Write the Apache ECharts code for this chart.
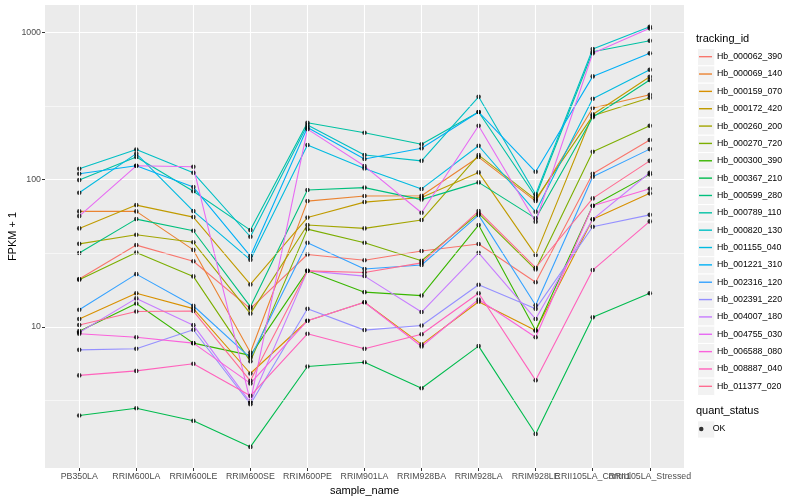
<!DOCTYPE html>
<html>
<head>
<meta charset="utf-8">
<script src="https://cdn.jsdelivr.net/npm/echarts@6.0.0/dist/echarts.min.js"></script>
<style>
html,body{margin:0;padding:0;background:#fff;}
#chart{width:800px;height:500px;}
</style>
</head>
<body>
<div id="chart"></div>
<script>
const categories = ['PB350LA','RRIM600LA','RRIM600LE','RRIM600SE','RRIM600PE','RRIM901LA','RRIM928BA','RRIM928LA','RRIM928LE','RRII105LA_Control','RRII105LA_Stressed'];

const trackingIds = ['Hb_000062_390','Hb_000069_140','Hb_000159_070','Hb_000172_420','Hb_000260_200','Hb_000270_720','Hb_000300_390','Hb_000367_210','Hb_000599_280','Hb_000789_110','Hb_000820_130','Hb_001155_040','Hb_001221_310','Hb_002316_120','Hb_002391_220','Hb_004007_180','Hb_004755_030','Hb_006588_080','Hb_008887_040','Hb_011377_020'];

const trackingColors = ['#F8766D','#EA8331','#D89000','#C09B00','#A3A500','#7CAE00','#39B600','#00BB4E','#00BF7D','#00C1A3','#00BFC4','#00BAE0','#00B0F6','#35A2FF','#9590FF','#C77CFF','#E76BF3','#FA62DB','#FF62BC','#FF6C91'];

const hb_000062_390 = [21.1, 35.9, 27.9, 13.3, 31.0, 28.3, 32.7, 36.5, 20.1, 109.5, 185.5];
const hb_000069_140 = [60.8, 60.8, 33.3, 6.7, 71.4, 77.3, 77.6, 142.2, 71.4, 306, 377];
const hb_000159_070 = [11.3, 16.9, 13.3, 4.82, 11.0, 14.7, 7.6, 14.8, 9.45, 53.7, 80.6];
const hb_000172_420 = [46.6, 67.1, 55.6, 19.4, 55.2, 70.3, 75.5, 111.9, 30.8, 277, 499];
const hb_000260_200 = [36.6, 42.2, 37.5, 12.3, 49.1, 46.6, 53.1, 146.7, 73.4, 271, 359];
const hb_000270_720 = [20.9, 32.0, 22.0, 5.83, 46.1, 37.2, 28.1, 58.9, 24.5, 154.5, 232];
const hb_000300_390 = [9.35, 14.4, 7.75, 6.4, 24.0, 17.2, 16.3, 49.1, 9.45, 66.4, 108.5];
const hb_000367_210 = [2.50, 2.80, 2.30, 1.53, 5.38, 5.75, 3.83, 7.40, 1.87, 11.6, 16.9];
const hb_000599_280 = [31.7, 53.9, 44.9, 13.7, 84.9, 88.2, 73.1, 95.7, 54.5, 265, 474];
const hb_000789_110 = [99.2, 142.2, 83.3, 45.4, 243, 208, 173.7, 287.5, 76.4, 738, 877];
const hb_000820_130 = [118.4, 160, 111.2, 40.9, 234.5, 146.7, 134, 365, 79.4, 770, 1092];
const hb_001155_040 = [81.3, 150, 61.1, 28.5, 171.6, 119.1, 86.4, 169.7, 60.4, 354, 557];
const hb_001221_310 = [109.5, 124, 88.9, 30.2, 226, 137.8, 163, 287.5, 113, 502, 720];
const hb_002316_120 = [13.05, 22.8, 13.9, 6.16, 37.2, 24.7, 26.3, 57.4, 14.0, 104.5, 161];
const hb_002391_220 = [6.98, 7.1, 9.55, 2.98, 13.25, 9.5, 10.2, 19.3, 13.25, 47.8, 57.6];
const hb_004007_180 = [9.16, 15.6, 10.27, 3.06, 24.0, 22.1, 12.6, 31.8, 11.3, 53.7, 111.2];
const hb_004755_030 = [56.5, 124, 122.2, 3.11, 220, 123.5, 59.5, 232, 51.7, 720, 1064];
const hb_006588_080 = [8.97, 8.5, 7.75, 4.13, 11.0, 14.7, 7.35, 15.35, 8.5, 66.4, 86.6];
const hb_008887_040 = [4.68, 5.02, 5.61, 3.40, 8.97, 7.09, 8.9, 16.9, 4.33, 24.3, 52];
const hb_011377_020 = [10.3, 12.7, 12.8, 4.30, 24.0, 23.4, 27.2, 61.1, 25.2, 74.5, 134];

const seriesValues = [hb_000062_390, hb_000069_140, hb_000159_070, hb_000172_420, hb_000260_200, hb_000270_720, hb_000300_390, hb_000367_210, hb_000599_280, hb_000789_110, hb_000820_130, hb_001155_040, hb_001221_310, hb_002316_120, hb_002391_220, hb_004007_180, hb_004755_030, hb_006588_080, hb_008887_040, hb_011377_020];

const yMinorBreaks = [Math.pow(10, 0.5), Math.pow(10, 1.5), Math.pow(10, 2.5)];
const quantStatus = ['OK'];

const FONT = "'Liberation Sans', Arial, Helvetica, sans-serif";
const catIdx = categories.map((c, i) => i);
const evenIdx = catIdx.filter(i => i % 2 === 0);
const oddIdx = catIdx.filter(i => i % 2 === 1);

const chart = echarts.init(document.getElementById('chart'), null, {renderer: 'canvas'});

const lineSeries = trackingIds.map((id, k) => ({
  name: id,
  type: 'line',
  xAxisIndex: 0,
  data: seriesValues[k].map((v, i) => [i, v]),
  symbol: 'none',
  lineStyle: {color: trackingColors[k], width: 1.1},
  itemStyle: {color: trackingColors[k]},
  z: 2,
  silent: true,
  animation: false
}));

const pointData = [];
seriesValues.forEach(arr => arr.forEach((v, i) => pointData.push([i, v])));

const gridSeries = {
  type: 'line',
  xAxisIndex: 0,
  data: [],
  z: 1,
  silent: true,
  animation: false,
  markLine: {
    symbol: 'none',
    silent: true,
    animation: false,
    label: {show: false},
    data: yMinorBreaks.map(v => ({yAxis: v, lineStyle: {color: '#ffffff', width: 0.55, type: 'solid'}}))
      .concat(catIdx.map(i => ({xAxis: i, lineStyle: {color: '#ffffff', width: 1.1, type: 'solid'}})))
  }
};

const keyRects = [];
const ROW = 17.35;
for (let i = 0; i < trackingIds.length; i++) {
  keyRects.push({type: 'rect', left: 697, top: 48 + i * ROW, shape: {width: 17.3, height: 17.3}, style: {fill: '#F2F2F2', stroke: '#ffffff', lineWidth: 1}, silent: true, z: 0});
}
keyRects.push({type: 'rect', left: 697, top: 420.3, shape: {width: 17.3, height: 17.3}, style: {fill: '#F2F2F2', stroke: '#ffffff', lineWidth: 1}, silent: true, z: 0});

const xLabelStyle = {color: '#4D4D4D', fontSize: 8.8, margin: 4, fontFamily: FONT, hideOverlap: false,
  formatter: v => categories[Math.round(v)]};

const option = {
  animation: false,
  backgroundColor: '#ffffff',
  textStyle: {fontFamily: FONT},
  grid: {left: 45, right: 116, top: 5, bottom: 32, show: true, backgroundColor: '#EBEBEB', borderWidth: 0,
    containLabel: false, outerBoundsMode: 'none'},
  title: [
    {text: 'tracking_id', left: 696, top: 33, padding: 0, textStyle: {fontSize: 11, fontWeight: 'normal', color: '#000', fontFamily: FONT}},
    {text: 'quant_status', left: 696, top: 405.5, padding: 0, textStyle: {fontSize: 11, fontWeight: 'normal', color: '#000', fontFamily: FONT}}
  ],
  legend: [
    {
      data: trackingIds.map((id, k) => ({name: id, icon: 'rect', itemStyle: {color: trackingColors[k]}})),
      orient: 'vertical', left: 699, top: 48, padding: 0,
      itemWidth: 13, itemHeight: 1.4, itemGap: 0, selectedMode: false,
      textStyle: {fontSize: 8.8, color: '#000', lineHeight: ROW, fontFamily: FONT}
    },
    {
      data: quantStatus.map(q => ({name: q, icon: 'circle'})),
      orient: 'vertical', left: 699, top: 420.3, padding: 0,
      itemWidth: 13, itemHeight: 4.5, itemGap: 0, selectedMode: false,
      textStyle: {fontSize: 8.8, color: '#000', lineHeight: ROW, fontFamily: FONT}
    }
  ],
  graphic: keyRects,
  xAxis: [
    {
      type: 'value', min: -0.6, max: 10.6, position: 'bottom',
      axisLine: {show: false, onZero: false},
      axisTick: {show: true, length: 3, lineStyle: {color: '#333333', width: 1}, customValues: catIdx},
      axisLabel: Object.assign({customValues: evenIdx}, xLabelStyle),
      splitLine: {show: false},
      name: 'sample_name', nameLocation: 'middle', nameGap: 17, nameMoveOverlap: false,
      nameTextStyle: {fontSize: 11, color: '#000', fontFamily: FONT}
    },
    {
      type: 'value', min: -0.6, max: 10.6, position: 'bottom', offset: 0,
      axisLine: {show: false, onZero: false},
      axisTick: {show: false, customValues: oddIdx},
      axisLabel: Object.assign({customValues: oddIdx}, xLabelStyle),
      splitLine: {show: false}
    }
  ],
  yAxis: {
    type: 'log', logBase: 10, min: 1.1, max: 1533,
    axisLine: {show: false, onZero: false},
    axisTick: {show: true, length: 3, lineStyle: {color: '#333333', width: 1}},
    axisLabel: {color: '#4D4D4D', fontSize: 8.8, margin: 4, showMinLabel: false, showMaxLabel: false,
      formatter: v => String(Math.round(v)), fontFamily: FONT},
    splitLine: {show: true, showMinLine: false, showMaxLine: false, lineStyle: {color: '#ffffff', width: 1.1}},
    name: 'FPKM + 1', nameLocation: 'middle', nameGap: 27, nameRotate: 90, nameMoveOverlap: false,
    nameTextStyle: {fontSize: 11, color: '#000', fontFamily: FONT}
  },
  series: [gridSeries].concat(lineSeries).concat([{
    name: 'OK', type: 'scatter', xAxisIndex: 0, data: pointData, symbol: 'circle', symbolSize: 4.6,
    itemStyle: {color: '#000000'}, z: 3, silent: true, animation: false
  }])
};
chart.setOption(option);
</script>
</body>
</html>
